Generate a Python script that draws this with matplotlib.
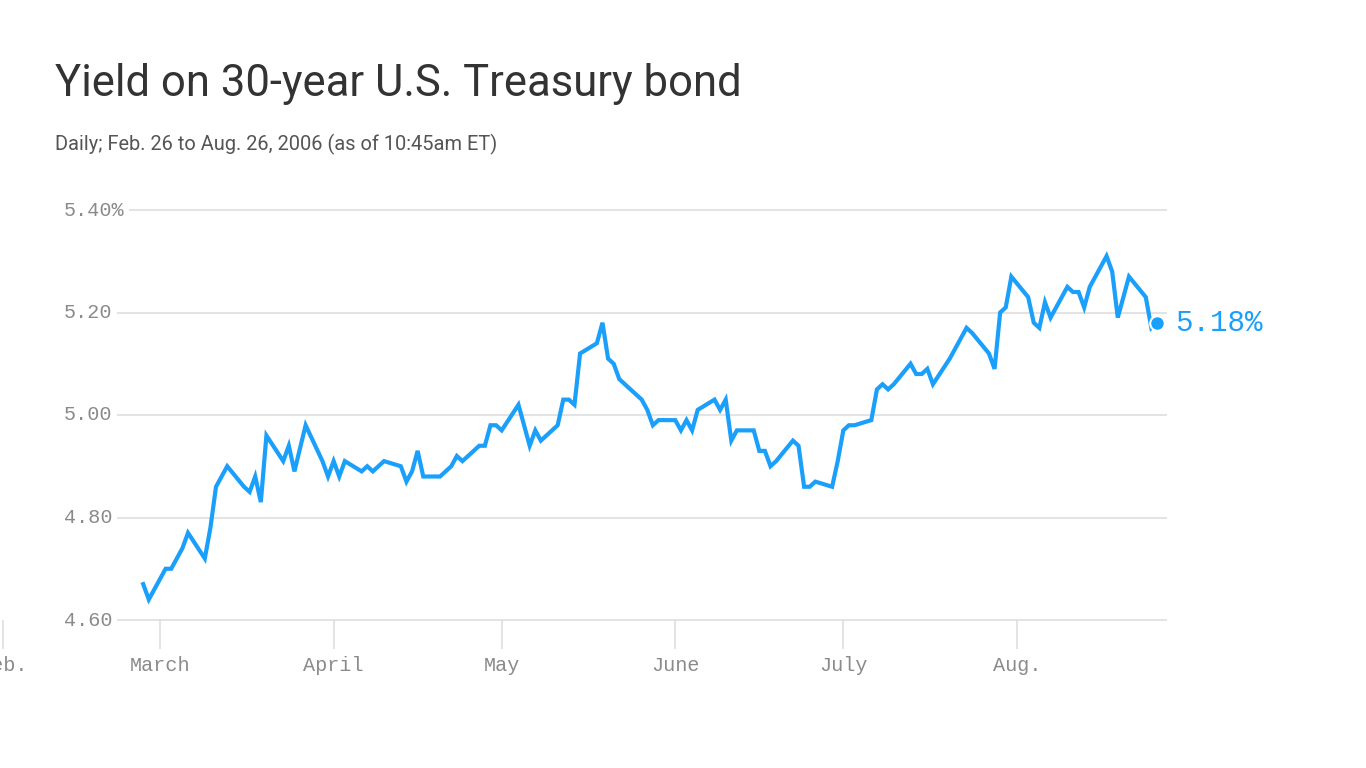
import matplotlib
matplotlib.use("Agg")
import matplotlib.pyplot as plt
import matplotlib.dates as mdates
import matplotlib.transforms as mtransforms
import pandas as pd

# trading days (month-day) and 30-year yield
days = ["02-26", "02-27",
        "03-02", "03-03", "03-04", "03-05", "03-06", "03-09", "03-10", "03-11", "03-12", "03-13",
        "03-16", "03-17", "03-18", "03-19", "03-20", "03-23", "03-24", "03-25", "03-26", "03-27",
        "03-30", "03-31", "04-01", "04-02", "04-03", "04-06", "04-07", "04-08", "04-09", "04-10",
        "04-13", "04-14", "04-15", "04-16", "04-17", "04-20", "04-21", "04-22", "04-23", "04-24",
        "04-27", "04-28", "04-29", "04-30", "05-01", "05-04", "05-05", "05-06", "05-07", "05-08",
        "05-11", "05-12", "05-13", "05-14", "05-15", "05-18", "05-19", "05-20", "05-21", "05-22",
        "05-25", "05-26", "05-27", "05-28", "05-29", "06-01", "06-02", "06-03", "06-04", "06-05",
        "06-08", "06-09", "06-10", "06-11", "06-12", "06-15", "06-16", "06-17", "06-18", "06-19",
        "06-22", "06-23", "06-24", "06-25", "06-26", "06-29", "06-30", "07-01", "07-02", "07-03",
        "07-06", "07-07", "07-08", "07-09", "07-10", "07-13", "07-14", "07-15", "07-16", "07-17",
        "07-20", "07-21", "07-22", "07-23", "07-24", "07-27", "07-28", "07-29", "07-30", "07-31",
        "08-03", "08-04", "08-05", "08-06", "08-07", "08-10", "08-11", "08-12", "08-13", "08-14",
        "08-17", "08-18", "08-19", "08-20", "08-21", "08-24", "08-25", "08-26"]
yields = [4.67, 4.64,
          4.70, 4.70, 4.72, 4.74, 4.77, 4.72, 4.78, 4.86, 4.88, 4.90,
          4.86, 4.85, 4.88, 4.83, 4.96, 4.91, 4.94, 4.89, 4.935, 4.98,
          4.91, 4.88, 4.91, 4.88, 4.91, 4.89, 4.90, 4.89, 4.90, 4.91,
          4.90, 4.87, 4.89, 4.93, 4.88, 4.88, 4.89, 4.90, 4.92, 4.91,
          4.94, 4.94, 4.98, 4.98, 4.97, 5.02, 4.98, 4.94, 4.97, 4.95,
          4.98, 5.03, 5.03, 5.02, 5.12, 5.14, 5.18, 5.11, 5.10, 5.07,
          5.04, 5.03, 5.01, 4.98, 4.99, 4.99, 4.97, 4.99, 4.97, 5.01,
          5.03, 5.01, 5.03, 4.95, 4.97, 4.97, 4.93, 4.93, 4.90, 4.91,
          4.95, 4.94, 4.86, 4.86, 4.87, 4.86, 4.91, 4.97, 4.98, 4.98,
          4.99, 5.05, 5.06, 5.05, 5.06, 5.10, 5.08, 5.08, 5.09, 5.06,
          5.11, 5.13, 5.15, 5.17, 5.16, 5.12, 5.09, 5.20, 5.21, 5.27,
          5.23, 5.18, 5.17, 5.22, 5.19, 5.25, 5.24, 5.24, 5.21, 5.25,
          5.31, 5.28, 5.19, 5.23, 5.27, 5.23, 5.17, 5.18]

y_ticks = [4.60, 4.80, 5.00, 5.20, 5.40]
month_starts = ["02-01", "03-01", "04-01", "05-01", "06-01", "07-01", "08-01"]
month_labels = ["Feb.", "March", "April", "May", "June", "July", "Aug."]

blue = "#1a9ffa"
grey_text = "#8a8a8a"
mono = ["Liberation Mono", "DejaVu Sans Mono"]

dates = pd.to_datetime(["2006-" + d for d in days])
ticks = pd.to_datetime(["2006-" + d for d in month_starts])

W, H = 1366, 768
fig = plt.figure(figsize=(W / 100, H / 100), dpi=100)
fig.patch.set_facecolor("white")

# axes box: left edge of figure to x=1166px, 4.60 at y=620px, 5.40 at y=210px
ax = fig.add_axes([0, (H - 620) / H, 1166 / W, 410 / H])
px_per_day = 5.601
mar1 = mdates.date2num(pd.Timestamp("2006-03-01"))
ax.set_xlim(mar1 - 160 / px_per_day, mar1 + 1006 / px_per_day)
ax.set_ylim(4.60, 5.40)

for s in ax.spines.values():
    s.set_visible(False)
ax.set_yticks([])

# horizontal gridlines start just right of their labels
blend = mtransforms.blended_transform_factory(fig.transFigure, ax.transData)
for v in y_ticks:
    start = 130 if v == 5.40 else 118
    ax.axhline(v, xmin=start / 1166, xmax=1, color="#e3e3e3", lw=1.4,
               zorder=0, clip_on=False)
    lab = f"{v:.2f}%" if v == 5.40 else f"{v:.2f}"
    ax.text(64 / W, v, lab, transform=blend, ha="left", va="center",
            fontsize=14.5, family=mono, color=grey_text)

ax.set_xticks(ticks)
ax.set_xticklabels(month_labels)
ax.tick_params(axis="x", length=21, width=1.1, color="#dcdcdc", pad=5,
               labelsize=14.5, labelcolor=grey_text)
for t in ax.get_xticklabels():
    t.set_family(mono)

ax.plot(dates, yields, color=blue, lw=3, solid_joinstyle="miter", zorder=3)
ax.scatter(dates[-1:], yields[-1:], s=110, color=blue, edgecolor="white",
           linewidth=1.5, zorder=4)
ax.annotate(f"{yields[-1]:.2f}%", (dates[-1], yields[-1]), xytext=(13, 0),
            textcoords="offset points", ha="left", va="center",
            fontsize=21, family=mono, color=blue, annotation_clip=False)

fig.text(55 / W, 1 - 96 / H, "Yield on 30-year U.S. Treasury bond",
         ha="left", va="baseline", fontsize=31.4, family="Roboto", color="#333333")
fig.text(55 / W, 1 - 150 / H, "Daily; Feb. 26 to Aug. 26, 2006 (as of 10:45am ET)",
         ha="left", va="baseline", fontsize=14.4, family="Roboto", color="#555555")

fig.savefig("out.png", dpi=100, facecolor="white")
